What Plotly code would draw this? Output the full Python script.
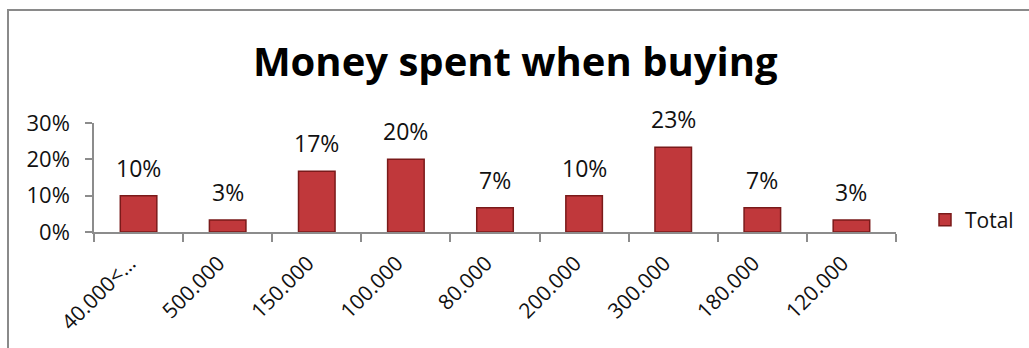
import plotly.graph_objects as go

# Share of respondents by amount spent
categories = ["40.000<…", "500.000", "150.000", "100.000", "80.000",
              "200.000", "300.000", "180.000", "120.000"]
shares = [0.10, 0.033, 0.167, 0.20, 0.067, 0.10, 0.233, 0.067, 0.033]
y_ticks = [0, 0.1, 0.2, 0.3]
series_name = "Total"

W, H = 1029, 348
L, R, T, B = 94, 133, 123, 116
plot_w, plot_h = W - L - R, H - T - B


def px_x(px):
    return (px - L) / plot_w


def px_y(py):
    return (H - B - py) / plot_h


FONT = "Open Sans"
AXIS_GREY = "#8c8c8c"

fig = go.Figure()
fig.add_trace(go.Bar(
    x=categories,
    y=shares,
    name=series_name,
    marker=dict(color="#c0383b", line=dict(color="#7a1a1a", width=1.5)),
    showlegend=True,
))

# value labels above each bar; category axes take positions as indices
annotations = [
    dict(x=i, y=v, text=f"{v:.0%}", showarrow=False, xref="x", yref="y",
         yanchor="bottom", yshift=10, font=dict(family=FONT, size=23, color="#111"))
    for i, v in enumerate(shares)
]

fig.update_layout(
    width=W, height=H,
    margin=dict(l=L, r=R, t=T, b=B, autoexpand=False),
    paper_bgcolor="white", plot_bgcolor="white",
    bargap=0.59,
    title=dict(text="<b>Money spent when buying</b>", x=0.5 + 26 / W, xref="paper",
               xanchor="center", y=1 - 62 / H, yanchor="middle",
               font=dict(family=FONT, size=40, color="#000")),
    xaxis=dict(type="category", categoryorder="array", categoryarray=categories,
               range=[-0.5, len(categories) - 0.5], automargin=False,
               showline=True, linecolor=AXIS_GREY, linewidth=1.5,
               ticks="outside", tickson="boundaries", ticklen=8, tickcolor=AXIS_GREY,
               tickwidth=1.5, tickangle=-45, showgrid=False,
               ticklabelstandoff=9, ticklabelshift=-9,
               tickfont=dict(family=FONT, size=21, color="#111")),
    yaxis=dict(range=[0, 0.3], tickvals=y_ticks, tickformat=".0%", showline=True,
               automargin=False,
               linecolor=AXIS_GREY, linewidth=1.5, ticks="outside", ticklen=7,
               tickcolor=AXIS_GREY, tickwidth=1.5, showgrid=False, zeroline=False,
               ticklabelstandoff=11,
               tickfont=dict(family=FONT, size=22, color="#111")),
    legend=dict(x=px_x(925), y=px_y(220), xanchor="left", yanchor="middle",
                font=dict(family=FONT, size=21, color="#111"),
                bgcolor="rgba(0,0,0,0)"),
    annotations=annotations,
    shapes=[dict(type="rect", xref="paper", yref="paper",
                 x0=px_x(8), x1=px_x(W + 20), y0=px_y(H + 20), y1=px_y(10),
                 line=dict(color="#8a8a8a", width=2), fillcolor="rgba(0,0,0,0)",
                 layer="below")],
)

fig.write_html("out.html")
